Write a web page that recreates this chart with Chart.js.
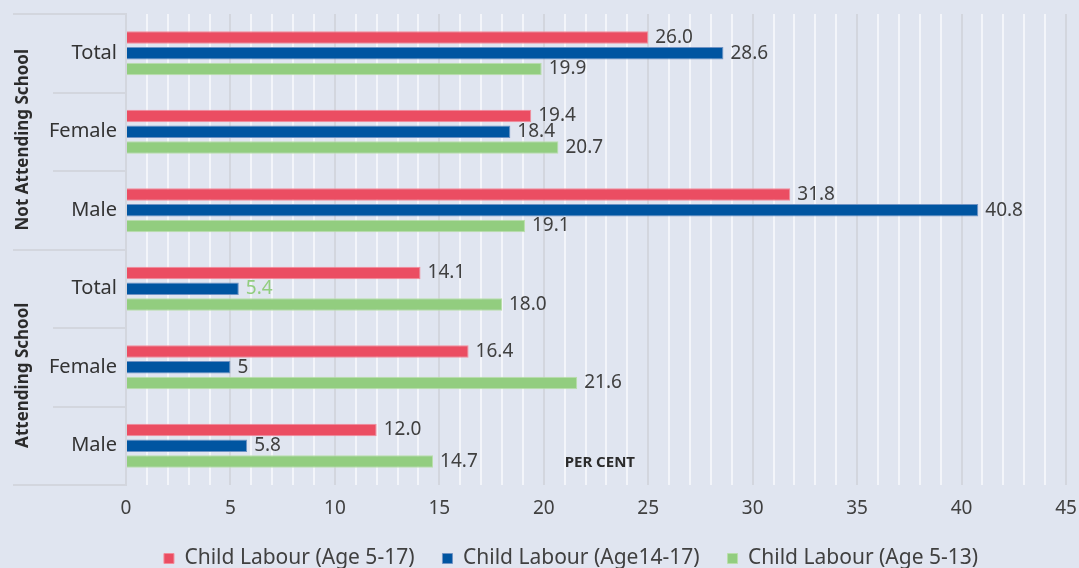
<!DOCTYPE html>
<html>
<head>
<meta charset="utf-8">
<script src="https://cdn.jsdelivr.net/npm/chart.js@4"></script>
<style>
  html, body { margin: 0; padding: 0; background: #E0E5F0; }
  #chart { display: block; }
</style>
</head>
<body>
<canvas id="chart" width="1079" height="568"></canvas>
<script>
const categories = ['Total', 'Female', 'Male', 'Total', 'Female', 'Male'];
const groups = ['Not Attending School', 'Attending School'];

// bar lengths
const age5to17 = [25.0, 19.4, 31.8, 14.1, 16.4, 12.0];
const age14to17 = [28.6, 18.4, 40.8, 5.4, 5.0, 5.8];
const age5to13 = [19.9, 20.7, 19.1, 18.0, 21.6, 14.7];

// the printed value labels
const age5to17Labels = ['26.0', '19.4', '31.8', '14.1', '16.4', '12.0'];
const age14to17Labels = ['28.6', '18.4', '40.8', '5.4', '5', '5.8'];
const age5to13Labels = ['19.9', '20.7', '19.1', '18.0', '21.6', '14.7'];

const xTicks = [0, 5, 10, 15, 20, 25, 30, 35, 40, 45];

const FONT = '"Noto Sans", "Open Sans", sans-serif';
const TEXT = '#404040';
const LINE = '#d3d6de';
const LEFT_PAD = 76;

const valueLabels = {
    id: 'valueLabels',
    afterDatasetsDraw(chart) {
        const ctx = chart.ctx;
        ctx.save();
        ctx.font = '19px ' + FONT;
        ctx.textBaseline = 'middle';
        ctx.textAlign = 'left';
        chart.data.datasets.forEach((ds, i) => {
            chart.getDatasetMeta(i).data.forEach((bar, j) => {
                ctx.fillStyle = (ds.labelColors && ds.labelColors[j]) || TEXT;
                ctx.fillText(ds.labelTexts[j], bar.x + 7, bar.y);
            });
        });
        ctx.restore();
    }
};

// category names, group titles and the row separators left of the plot
const groupAxis = {
    id: 'groupAxis',
    afterDraw(chart) {
        const ctx = chart.ctx;
        const y = chart.scales.y;
        const area = chart.chartArea;
        const step = (y.getPixelForValue(1) - y.getPixelForValue(0));
        ctx.save();
        ctx.strokeStyle = LINE;
        ctx.lineWidth = 2;
        for (let i = 0; i <= categories.length; i++) {
            const py = Math.round(y.getPixelForValue(i) - step / 2);
            const x0 = (i % 3 === 0) ? 13 : 53;
            ctx.beginPath();
            ctx.moveTo(x0, py);
            ctx.lineTo(area.left, py);
            ctx.stroke();
        }

        ctx.fillStyle = '#333333';
        ctx.font = '20px ' + FONT;
        ctx.textAlign = 'right';
        ctx.textBaseline = 'middle';
        categories.forEach((c, i) => {
            ctx.fillText(c, area.left - 9, y.getPixelForValue(i));
        });

        ctx.fillStyle = '#2b2b2b';
        ctx.font = 'bold 17px ' + FONT;
        ctx.textAlign = 'center';
        groups.forEach((g, k) => {
            const cy = (y.getPixelForValue(k * 3) + y.getPixelForValue(k * 3 + 2)) / 2 + 8;
            ctx.save();
            ctx.translate(23, cy);
            ctx.rotate(-Math.PI / 2);
            ctx.fillText(g, 0, 0);
            ctx.restore();
        });

        ctx.font = 'bold 15px ' + FONT;
        ctx.textAlign = 'left';
        ctx.fillText('PER CENT', chart.scales.x.getPixelForValue(21), area.bottom - 22);
        ctx.restore();
    }
};

const ctx = document.getElementById('chart').getContext('2d');

new Chart(ctx, {
    type: 'bar',
    data: {
        labels: categories,
        datasets: [{
            label: 'Child Labour (Age 5-17)',
            data: age5to17,
            labelTexts: age5to17Labels,
            backgroundColor: '#EB4D62',
            borderColor: '#F28C9A',
            borderWidth: 1
        }, {
            label: 'Child Labour (Age14-17)',
            data: age14to17,
            labelTexts: age14to17Labels,
            labelColors: [null, null, null, '#92CD7F', null, null],
            backgroundColor: '#0055A1',
            borderColor: '#6f93c4',
            borderWidth: 1
        }, {
            label: 'Child Labour (Age 5-13)',
            data: age5to13,
            labelTexts: age5to13Labels,
            backgroundColor: '#92CD7F',
            borderColor: '#b9deab',
            borderWidth: 1
        }]
    },
    options: {
        indexAxis: 'y',
        responsive: false,
        animation: false,
        categoryPercentage: 0.6,
        barPercentage: 0.8,
        layout: { padding: { top: 14, right: 13, left: LEFT_PAD, bottom: -11 } },
        scales: {
            x: {
                min: 0,
                max: 45,
                afterFit: (s) => {
                    s.height = 35;
                    s.paddingLeft = 0;
                    s.paddingRight = 0;
                },
                ticks: {
                    stepSize: 1,
                    autoSkip: false,
                    maxRotation: 0,
                    padding: 12,
                    color: TEXT,
                    font: { family: FONT, size: 19 },
                    callback: (v) => xTicks.includes(v) ? v : ''
                },
                grid: {
                    drawTicks: false,
                    lineWidth: 2,
                    color: (c) => (c.tick && c.tick.value % 5 === 0) ? '#d3d6de' : '#f3f5fa'
                },
                border: { display: false }
            },
            y: {
                afterFit: (s) => {
                    s.width = 126 - LEFT_PAD;
                    s.paddingTop = 0;
                    s.paddingBottom = 0;
                },
                ticks: { display: false },
                grid: { display: false, drawTicks: false },
                border: { display: true, color: LINE, width: 2 }
            }
        },
        plugins: {
            legend: {
                position: 'bottom',
                labels: {
                    boxWidth: 10,
                    boxHeight: 10,
                    padding: 28,
                    color: TEXT,
                    font: { family: FONT, size: 21 }
                }
            },
            tooltip: { enabled: false }
        }
    },
    plugins: [valueLabels, groupAxis]
});
</script>
</body>
</html>
